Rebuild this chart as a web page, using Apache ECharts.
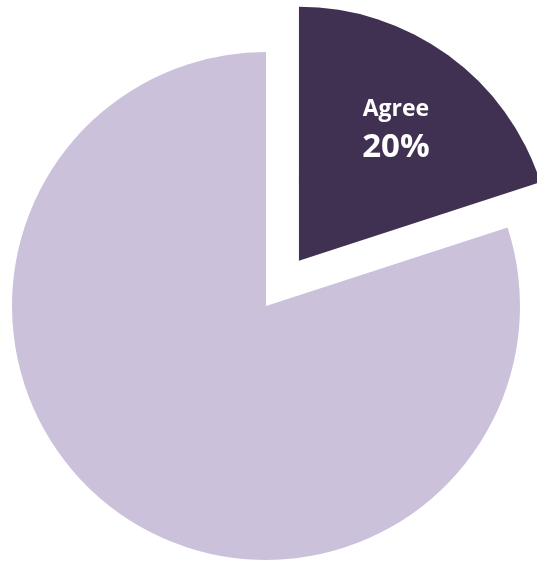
<!DOCTYPE html>
<html>
<head>
<meta charset="utf-8">
<script src="https://cdn.jsdelivr.net/npm/echarts@6/dist/echarts.min.js"></script>
<style>
html,body{margin:0;padding:0;background:#fff;}
#chart{width:537px;height:563px;}
</style>
</head>
<body>
<div id="chart"></div>
<script>
var categories = ['Agree', 'Disagree'];
var values = [20, 80];
var colors = ['#403152', '#CCC1DA'];
var showLabel = [true, false];

var total = values.reduce(function (a, b) { return a + b; }, 0);

function buildData(transparent) {
  return categories.map(function (c, i) {
    return {
      name: c,
      value: values[i],
      selected: i === 0,
      itemStyle: { color: transparent ? 'rgba(0,0,0,0)' : colors[i] },
      label: { show: transparent && showLabel[i] }
    };
  });
}

var chart = echarts.init(document.getElementById('chart'), null, { renderer: 'canvas' });
chart.setOption({
  animation: false,
  backgroundColor: '#ffffff',
  series: [
    {
      type: 'pie',
      center: [266, 306],
      radius: [0, 254],
      startAngle: 90,
      clockwise: true,
      selectedMode: 'single',
      selectedOffset: 56,
      silent: true,
      label: { show: false },
      labelLine: { show: false },
      emphasis: { scale: false },
      itemStyle: { borderWidth: 0 },
      data: buildData(false)
    },
    {
      type: 'pie',
      center: [266, 306],
      radius: [70, 254],
      startAngle: 90,
      clockwise: true,
      selectedMode: 'single',
      selectedOffset: 56,
      silent: true,
      z: 5,
      labelLine: { show: false },
      emphasis: { scale: false },
      label: {
        position: 'inside',
        formatter: function (p) {
          return '{a|' + p.name + '}\n{b|' + Math.round(p.value / total * 100) + '%}';
        },
        rich: {
          a: { color: '#ffffff', fontFamily: 'Open Sans', fontWeight: 'bold', fontSize: 23, lineHeight: 40, padding: [5, 0, 0, 0] },
          b: { color: '#ffffff', fontFamily: 'Open Sans', fontWeight: 'bold', fontSize: 33, lineHeight: 40 }
        }
      },
      data: buildData(true)
    }
  ]
});
</script>
</body>
</html>
